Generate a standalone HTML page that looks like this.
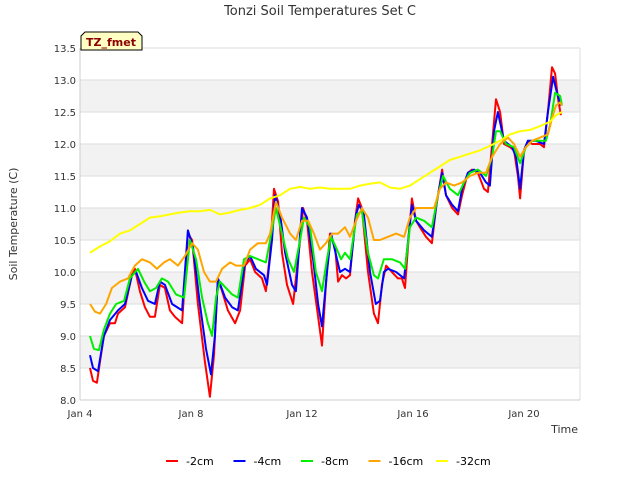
<!DOCTYPE html>
<html><head><meta charset="utf-8"><style>
body{margin:0;background:#fff;}
svg{font-family:"DejaVu Sans","Liberation Sans",sans-serif;}
</style></head><body>
<svg id="c" width="640" height="480">
<text x="320" y="15" text-anchor="middle" font-size="13" fill="#333">Tonzi Soil Temperatures Set C</text>
<text transform="translate(17,224) rotate(-90)" text-anchor="middle" font-size="11" fill="#333">Soil Temperature (C)</text>
<text x="578" y="433" text-anchor="end" font-size="11" fill="#333">Time</text>
<g id="bands"></g>
<g id="yticks"></g>
<g id="xticks"></g>
<g id="series"></g>
<g id="legend"></g>
<g>
<path d="M81,50 L81,36 L85,32 L138,32 L142,36 L142,50 Z" fill="#ffffc4" stroke="#000" stroke-width="1"/>
<text x="111" y="46" text-anchor="middle" font-size="11" font-weight="bold" fill="#8b0000">TZ_fmet</text>
</g>
</svg>
<script>
const yTicks=[8.0,8.5,9.0,9.5,10.0,10.5,11.0,11.5,12.0,12.5,13.0,13.5];
const xTickDays=[0,4,8,12,16];
const xTickLabels=["Jan 4","Jan 8","Jan 12","Jan 16","Jan 20"];
const seriesNames=["-2cm","-4cm","-8cm","-16cm","-32cm"];
const seriesColors=["#ff0000","#0000ff","#00ee00","#ffa500","#ffff00"];
const s2cm=[[0.36,8.5],[0.47,8.3],[0.61,8.27],[0.72,8.6],[0.86,9.0],[1.08,9.2],[1.26,9.2],[1.37,9.35],[1.62,9.45],[1.87,9.95],[1.98,10.05],[2.16,9.7],[2.34,9.45],[2.52,9.3],[2.70,9.3],[2.88,9.8],[3.06,9.75],[3.24,9.4],[3.42,9.3],[3.68,9.2],[3.89,10.6],[4.04,10.5],[4.25,9.5],[4.50,8.6],[4.68,8.05],[4.83,8.7],[4.97,9.9],[5.12,9.7],[5.33,9.4],[5.59,9.2],[5.77,9.4],[5.95,10.1],[6.13,10.2],[6.31,10.0],[6.56,9.9],[6.70,9.7],[6.85,10.3],[6.99,11.3],[7.14,11.1],[7.28,10.3],[7.46,9.8],[7.68,9.5],[7.93,10.5],[8.04,11.0],[8.18,10.8],[8.36,10.0],[8.58,9.3],[8.72,8.85],[8.86,9.8],[9.01,10.6],[9.19,10.4],[9.30,9.85],[9.44,9.95],[9.59,9.9],[9.73,9.95],[9.91,10.8],[10.02,11.15],[10.16,11.0],[10.38,10.0],[10.59,9.35],[10.74,9.2],[10.88,9.8],[11.03,10.1],[11.24,10.0],[11.46,9.9],[11.60,9.9],[11.71,9.75],[11.82,10.4],[11.96,11.15],[12.11,10.8],[12.25,10.7],[12.47,10.55],[12.68,10.45],[12.83,11.0],[13.05,11.6],[13.19,11.2],[13.41,11.0],[13.62,10.9],[13.77,11.2],[13.98,11.55],[14.13,11.6],[14.34,11.55],[14.56,11.3],[14.70,11.25],[14.85,12.0],[14.99,12.7],[15.14,12.5],[15.28,12.0],[15.50,11.95],[15.64,11.9],[15.78,11.5],[15.86,11.15],[16.00,11.9],[16.14,12.05],[16.29,12.0],[16.58,12.0],[16.72,11.95],[16.86,12.5],[17.01,13.2],[17.12,13.1],[17.23,12.7],[17.33,12.45]];
const s4cm=[[0.36,8.7],[0.47,8.5],[0.65,8.45],[0.86,9.0],[1.08,9.25],[1.37,9.4],[1.62,9.5],[1.87,9.95],[2.02,10.0],[2.23,9.75],[2.45,9.55],[2.70,9.5],[2.88,9.85],[3.06,9.8],[3.32,9.5],[3.68,9.4],[3.89,10.65],[4.07,10.4],[4.32,9.5],[4.54,8.8],[4.72,8.4],[4.86,9.0],[4.97,9.9],[5.23,9.6],[5.48,9.45],[5.69,9.4],[5.95,10.15],[6.13,10.25],[6.34,10.05],[6.63,9.95],[6.74,9.8],[6.92,10.5],[7.03,11.2],[7.21,10.9],[7.39,10.3],[7.64,9.8],[7.78,9.7],[8.00,11.0],[8.18,10.85],[8.40,10.2],[8.58,9.5],[8.72,9.15],[8.90,10.0],[9.05,10.6],[9.26,10.2],[9.37,10.0],[9.55,10.05],[9.73,10.0],[9.95,10.9],[10.05,11.05],[10.23,10.9],[10.45,10.0],[10.66,9.5],[10.81,9.55],[10.95,10.0],[11.10,10.05],[11.39,10.0],[11.68,9.9],[11.96,11.05],[12.11,10.8],[12.40,10.65],[12.68,10.55],[12.86,11.1],[13.05,11.55],[13.19,11.2],[13.41,11.05],[13.62,10.95],[13.77,11.3],[13.98,11.55],[14.20,11.6],[14.41,11.55],[14.63,11.4],[14.77,11.35],[14.92,12.2],[15.06,12.5],[15.28,12.05],[15.57,11.95],[15.71,11.8],[15.86,11.3],[16.00,11.9],[16.14,12.05],[16.43,12.05],[16.72,12.0],[16.86,12.5],[17.05,13.05],[17.19,12.8],[17.33,12.6]];
const s8cm=[[0.36,9.0],[0.50,8.8],[0.68,8.78],[0.86,9.1],[1.08,9.35],[1.30,9.5],[1.59,9.55],[1.80,9.9],[2.09,10.05],[2.31,9.85],[2.52,9.7],[2.74,9.75],[2.95,9.9],[3.17,9.85],[3.46,9.65],[3.75,9.6],[3.96,10.5],[4.18,10.2],[4.40,9.6],[4.61,9.2],[4.76,9.0],[4.90,9.6],[5.04,9.85],[5.26,9.75],[5.48,9.65],[5.69,9.6],[5.91,10.2],[6.13,10.25],[6.41,10.2],[6.70,10.15],[6.85,10.5],[7.06,11.0],[7.28,10.6],[7.50,10.2],[7.71,10.0],[7.93,10.5],[8.07,10.85],[8.29,10.7],[8.50,10.0],[8.72,9.7],[8.90,10.2],[9.05,10.55],[9.26,10.35],[9.41,10.2],[9.55,10.3],[9.73,10.2],[9.98,10.9],[10.16,10.95],[10.38,10.3],[10.59,9.95],[10.74,9.9],[10.95,10.2],[11.24,10.2],[11.53,10.15],[11.71,10.05],[11.89,10.7],[12.11,10.85],[12.40,10.8],[12.68,10.7],[12.90,11.2],[13.08,11.5],[13.33,11.3],[13.62,11.2],[13.84,11.4],[14.05,11.55],[14.34,11.6],[14.63,11.5],[14.85,11.8],[14.99,12.2],[15.14,12.2],[15.35,12.0],[15.64,11.95],[15.86,11.7],[16.07,11.95],[16.29,12.05],[16.58,12.05],[16.79,12.05],[16.94,12.3],[17.12,12.8],[17.30,12.75],[17.37,12.6]];
const s16cm=[[0.36,9.5],[0.54,9.38],[0.72,9.35],[0.94,9.5],[1.15,9.75],[1.44,9.85],[1.73,9.9],[1.98,10.1],[2.23,10.2],[2.52,10.15],[2.77,10.05],[3.03,10.15],[3.24,10.2],[3.53,10.1],[3.78,10.25],[4.04,10.45],[4.25,10.35],[4.47,10.0],[4.68,9.85],[4.90,9.85],[5.12,10.05],[5.41,10.15],[5.62,10.1],[5.91,10.1],[6.13,10.35],[6.41,10.45],[6.70,10.45],[6.85,10.6],[7.06,11.1],[7.28,10.85],[7.57,10.6],[7.78,10.5],[8.00,10.8],[8.22,10.8],[8.43,10.6],[8.65,10.35],[8.86,10.45],[9.08,10.6],[9.30,10.6],[9.55,10.7],[9.73,10.55],[9.95,10.8],[10.16,11.0],[10.38,10.85],[10.59,10.5],[10.81,10.5],[11.10,10.55],[11.39,10.6],[11.68,10.55],[11.89,10.85],[12.11,11.0],[12.47,11.0],[12.76,11.0],[12.97,11.3],[13.19,11.4],[13.48,11.35],[13.77,11.4],[14.05,11.5],[14.34,11.55],[14.63,11.55],[14.85,11.8],[15.14,12.0],[15.42,12.1],[15.64,12.0],[15.86,11.8],[16.07,11.95],[16.29,12.05],[16.58,12.1],[16.86,12.15],[17.01,12.4],[17.15,12.6],[17.30,12.65],[17.37,12.6]];
const s32cm=[[0.36,10.3],[0.72,10.4],[1.08,10.48],[1.44,10.6],[1.80,10.65],[2.16,10.75],[2.52,10.85],[2.88,10.87],[3.24,10.9],[3.60,10.93],[3.96,10.95],[4.32,10.95],[4.68,10.97],[5.04,10.9],[5.41,10.93],[5.77,10.97],[6.13,11.0],[6.49,11.05],[6.85,11.15],[7.21,11.2],[7.57,11.3],[7.93,11.33],[8.29,11.3],[8.65,11.32],[9.01,11.3],[9.37,11.3],[9.73,11.3],[10.09,11.35],[10.45,11.38],[10.81,11.4],[11.17,11.32],[11.53,11.3],[11.89,11.35],[12.25,11.45],[12.61,11.55],[12.97,11.65],[13.33,11.75],[13.69,11.8],[14.05,11.85],[14.41,11.9],[14.77,11.97],[15.14,12.05],[15.50,12.15],[15.86,12.2],[16.22,12.22],[16.58,12.28],[16.94,12.35],[17.15,12.45],[17.37,12.5]];
const allSeries=[s2cm,s4cm,s8cm,s16cm,s32cm];

const NS="http://www.w3.org/2000/svg";
const X0=80,X1=580,Y0=48,Y1=400;
const xMin=0,xMax=500/27.75;
const yMin=8.0,yMax=13.5;
function xs(d){return X0+(d-xMin)/(xMax-xMin)*(X1-X0);}
function ys(v){return Y1-(v-yMin)/(yMax-yMin)*(Y1-Y0);}
function mk(tag,attrs,parent){const e=document.createElementNS(NS,tag);for(const k in attrs)e.setAttribute(k,attrs[k]);parent.appendChild(e);return e;}

const bands=document.getElementById('bands');
for(let i=0;i<yTicks.length-1;i++){
  const lo=yTicks[i],hi=yTicks[i+1];
  const r=mk('rect',{x:X0,y:ys(hi),width:X1-X0,height:ys(lo)-ys(hi),fill:(i%2===1)?'#f2f2f2':'#ffffff'},bands);
  
  
}
const yt=document.getElementById('yticks');
yTicks.forEach(v=>{
  const l=mk('line',{x1:X0,x2:X1,y1:ys(v),y2:ys(v),stroke:'#dddddd','stroke-width':1},yt);
  
  
  const t=mk('text',{x:X0-4,y:ys(v)+4,'text-anchor':'end','font-size':10,fill:'#333'},yt);
  t.textContent=v.toFixed(1);
  
  
});
mk('line',{x1:X0,x2:X0,y1:Y0,y2:Y1,stroke:'#cccccc'},yt);
mk('line',{x1:X1,x2:X1,y1:Y0,y2:Y1,stroke:'#dddddd'},yt);
mk('line',{x1:X0,x2:X1,y1:Y1,y2:Y1,stroke:'#cccccc'},yt);
const xt=document.getElementById('xticks');
xTickDays.forEach((d,i)=>{
  const t=mk('text',{x:xs(d),y:Y1+17,'text-anchor':'middle','font-size':10,fill:'#333'},xt);
  t.textContent=xTickLabels[i];
  
  
});
const sg=document.getElementById('series');
allSeries.forEach((s,i)=>{
  const p=mk('polyline',{points:s.map(q=>xs(q[0]).toFixed(1)+','+ys(q[1]).toFixed(1)).join(' '),fill:'none',stroke:seriesColors[i],'stroke-width':2,'stroke-linejoin':'round'},sg);
  
  
});
const lg=document.getElementById('legend');
seriesNames.forEach((n,i)=>{
  const lx=166+i*67.5;
  const g=mk('g',{},lg);
  
  
  mk('line',{x1:lx,x2:lx+12,y1:461,y2:461,stroke:seriesColors[i],'stroke-width':2},g);
  const t=mk('text',{x:lx+20,y:465,'font-size':11,fill:'#000'},g);
  t.textContent=n;
});
</script>
</body></html>
